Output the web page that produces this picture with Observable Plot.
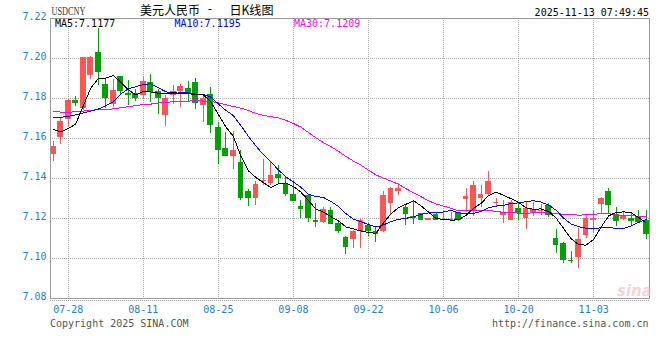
<!DOCTYPE html>
<html><head><meta charset="utf-8">
<script src="https://cdn.jsdelivr.net/npm/d3@7"></script>
<script src="https://cdn.jsdelivr.net/npm/@observablehq/plot@0.6"></script>
<style>
html,body{margin:0;padding:0;background:#fff;}
#wrap{position:relative;width:660px;height:360px;overflow:hidden;}
#wrap svg{display:block;}
#over{position:absolute;left:0;top:0;pointer-events:none;}
</style></head>
<body><div id="wrap"></div>
<script>
const dates = ["07-24","07-25","07-28","07-29","07-30","07-31","08-01","08-04","08-05","08-06","08-07","08-08","08-11","08-12","08-13","08-14","08-15","08-18","08-19","08-20","08-21","08-22","08-25","08-26","08-27","08-28","08-29","09-01","09-02","09-03","09-04","09-05","09-08","09-09","09-10","09-11","09-12","09-15","09-16","09-17","09-18","09-19","09-22","09-23","09-24","09-25","09-26","09-29","09-30","10-01","10-02","10-03","10-06","10-07","10-08","10-09","10-10","10-13","10-14","10-15","10-16","10-17","10-20","10-21","10-22","10-23","10-24","10-27","10-28","10-29","10-30","10-31","11-03","11-04","11-05","11-06","11-07","11-10","11-11","11-12"];
const open = [7.1522,7.1607,7.1693,7.1789,7.1748,7.1914,7.2030,7.1869,7.1769,7.1909,
 7.1826,7.1824,7.1817,7.1880,7.1834,7.1714,7.1817,7.1836,7.1851,7.1880,
 7.1765,7.1820,7.1656,7.1550,7.1512,7.1478,7.1334,7.1299,7.1385,7.1374,
 7.1418,7.1377,7.1319,7.1261,7.1317,7.1190,7.1178,7.1240,7.1175,7.1106,
 7.1097,7.1133,7.1167,7.1137,7.1133,7.1277,7.1335,7.1255,7.1212,7.1227,
 7.1188,7.1222,7.1190,7.1188,7.1230,7.1297,7.1242,7.1302,7.1318,7.1277,
 7.1213,7.1188,7.1252,7.1202,7.1232,7.1237,7.1263,7.1100,7.1077,7.0992,
 7.1003,7.1113,7.1188,7.1268,7.1333,7.1222,7.1197,7.1200,7.1210,7.1188];
const high = [7.1585,7.1706,7.1793,7.1809,7.2005,7.2010,7.2150,7.1900,7.1897,7.1909,
 7.1889,7.1844,7.1905,7.1919,7.1847,7.1817,7.1864,7.1872,7.1884,7.1900,
 7.1820,7.1856,7.1679,7.1628,7.1633,7.1542,7.1344,7.1385,7.1497,7.1484,
 7.1463,7.1410,7.1377,7.1289,7.1317,7.1274,7.1254,7.1253,7.1187,7.1112,
 7.1138,7.1193,7.1177,7.1160,7.1333,7.1355,7.1377,7.1267,7.1288,7.1227,
 7.1198,7.1230,7.1230,7.1230,7.1230,7.1352,7.1385,7.1363,7.1433,7.1300,
 7.1290,7.1288,7.1280,7.1280,7.1280,7.1272,7.1277,7.1147,7.1080,7.1035,
 7.1152,7.1213,7.1242,7.1305,7.1350,7.1255,7.1230,7.1230,7.1242,7.1238];
const low = [7.1487,7.1572,7.1660,7.1761,7.1740,7.1897,7.1867,7.1748,7.1756,7.1814,
 7.1764,7.1784,7.1797,7.1780,7.1720,7.1661,7.1771,7.1756,7.1778,7.1743,
 7.1678,7.1625,7.1468,7.1510,7.1443,7.1291,7.1261,7.1264,7.1364,7.1367,
 7.1374,7.1311,7.1284,7.1198,7.1182,7.1157,7.1175,7.1172,7.1126,7.1018,
 7.1052,7.1052,7.1110,7.1080,7.1130,7.1217,7.1313,7.1163,7.1172,7.1188,
 7.1188,7.1188,7.1188,7.1188,7.1187,7.1230,7.1208,7.1255,7.1310,7.1255,
 7.1177,7.1188,7.1190,7.1143,7.1210,7.1213,7.1205,7.1027,7.0975,7.0975,
 7.0950,7.1100,7.1130,7.1222,7.1227,7.1160,7.1188,7.1160,7.1180,7.1097];
const close = [7.1560,7.1685,7.1789,7.1776,7.2003,7.2003,7.1930,7.1800,7.1839,7.1836,
 7.1814,7.1800,7.1884,7.1830,7.1802,7.1800,7.1834,7.1859,7.1827,7.1773,
 7.1798,7.1663,7.1542,7.1512,7.1542,7.1299,7.1299,7.1372,7.1388,7.1413,
 7.1398,7.1319,7.1284,7.1246,7.1202,7.1182,7.1245,7.1172,7.1137,7.1053,
 7.1133,7.1188,7.1137,7.1120,7.1317,7.1352,7.1350,7.1218,7.1207,7.1188,
 7.1198,7.1188,7.1193,7.1193,7.1192,7.1312,7.1363,7.1322,7.1383,7.1280,
 7.1230,7.1280,7.1227,7.1250,7.1243,7.1242,7.1213,7.1063,7.0988,7.0988,
 7.1093,7.1202,7.1202,7.1302,7.1267,7.1183,7.1210,7.1183,7.1180,7.1122];
const ma5 = [7.1645,7.1633,7.1650,7.1672,7.1763,7.1851,7.1900,7.1902,7.1915,7.1882,
 7.1844,7.1818,7.1835,7.1833,7.1826,7.1823,7.1830,7.1825,7.1824,7.1819,
 7.1818,7.1784,7.1721,7.1658,7.1611,7.1512,7.1439,7.1405,7.1380,7.1354,
 7.1374,7.1378,7.1360,7.1332,7.1290,7.1247,7.1232,7.1209,7.1188,7.1158,
 7.1148,7.1137,7.1130,7.1126,7.1179,7.1223,7.1255,7.1271,7.1289,7.1263,
 7.1232,7.1200,7.1195,7.1192,7.1193,7.1216,7.1251,7.1276,7.1314,7.1332,
 7.1316,7.1299,7.1280,7.1253,7.1246,7.1248,7.1235,7.1202,7.1150,7.1099,
 7.1069,7.1067,7.1095,7.1157,7.1213,7.1231,7.1233,7.1229,7.1205,7.1177];
const ma10 = [7.1705,7.1706,7.1711,7.1718,7.1728,7.1737,7.1747,7.1764,7.1784,7.1822,
 7.1848,7.1859,7.1869,7.1874,7.1854,7.1834,7.1824,7.1830,7.1829,7.1822,
 7.1821,7.1807,7.1773,7.1741,7.1715,7.1665,7.1611,7.1563,7.1519,7.1483,
 7.1443,7.1408,7.1383,7.1356,7.1322,7.1310,7.1305,7.1285,7.1260,7.1224,
 7.1197,7.1184,7.1170,7.1157,7.1168,7.1185,7.1196,7.1201,7.1208,7.1221,
 7.1228,7.1228,7.1233,7.1240,7.1228,7.1224,7.1225,7.1236,7.1253,7.1262,
 7.1266,7.1275,7.1278,7.1284,7.1289,7.1282,7.1267,7.1241,7.1202,7.1172,
 7.1159,7.1151,7.1148,7.1154,7.1156,7.1150,7.1150,7.1162,7.1181,7.1195];
const ma30 = [7.1735,7.1732,7.1732,7.1733,7.1737,7.1742,7.1743,7.1745,7.1748,7.1754,
 7.1759,7.1765,7.1769,7.1772,7.1777,7.1780,7.1784,7.1785,7.1787,7.1789,
 7.1787,7.1786,7.1778,7.1769,7.1760,7.1752,7.1740,7.1726,7.1715,7.1709,
 7.1704,7.1691,7.1675,7.1657,7.1630,7.1603,7.1580,7.1559,7.1536,7.1510,
 7.1487,7.1467,7.1442,7.1418,7.1402,7.1387,7.1371,7.1349,7.1329,7.1309,
 7.1289,7.1273,7.1262,7.1251,7.1239,7.1240,7.1242,7.1240,7.1240,7.1236,
 7.1230,7.1229,7.1227,7.1227,7.1228,7.1230,7.1229,7.1226,7.1221,7.1219,
 7.1217,7.1218,7.1220,7.1226,7.1224,7.1219,7.1214,7.1213,7.1212,7.1210];
const tickLabels = ["07-28","08-11","08-25","09-08","09-22","10-06","10-20","11-03"];
const yTicks = [7.08,7.10,7.12,7.14,7.16,7.18,7.20,7.22];
const legendNames = ["MA5","MA10","MA30"];
const legendValues = ["7.1177","7.1195","7.1209"];
const symbol = "USDCNY";
const titleParts = ["美元人民币","-","日K线图"];
const stamp = "2025-11-13 07:49:45";
const footLeft = "Copyright 2025 SINA.COM";
const footRight = "http://finance.sina.com.cn";

const UP = "#ff5555", DOWN = "#00a000", AXIS = "#1e80d0", GRID = "#a8a8a8";
const MA_COLORS = ["#000000", "#0000ff", "#ff00ff"];
const rows = dates.map((d, i) => ({i, date: d, open: open[i], high: high[i], low: low[i], close: close[i], ma5: ma5[i], ma10: ma10[i], ma30: ma30[i]}));
const col = d => d.close >= d.open ? UP : DOWN;
const tickIdx = tickLabels.map(l => dates.indexOf(l));
const gridY = yTicks.slice(1, -1);
const HW = 0.38;

const chart = Plot.plot({
  width: 660, height: 360,
  marginTop: 18, marginRight: 11, marginBottom: 62, marginLeft: 50,
  style: {fontFamily: "'DejaVu Sans Mono', monospace", fontSize: "10px", background: "#fff", color: AXIS},
  x: {type: "linear", domain: [-0.36, 79.44]},
  y: {type: "linear", domain: [7.08, 7.22]},
  color: {type: "identity"},
  marks: [
    Plot.ruleX(tickIdx, {x: d => d, stroke: GRID, strokeDasharray: "1,1", shapeRendering: "crispEdges"}),
    Plot.ruleY(gridY, {y: d => d, stroke: GRID, strokeDasharray: "1,1", shapeRendering: "crispEdges"}),
    Plot.axisY({ticks: yTicks, tickSize: 0, tickPadding: 4, tickFormat: d3.format(".2f"), dy: -2, label: null, fill: AXIS}),
    Plot.axisX({ticks: tickIdx, tickSize: 0, tickPadding: 7, tickFormat: i => dates[i], label: null, fill: AXIS}),
    Plot.ruleX(rows, {x: "i", y1: "low", y2: "high", stroke: col, shapeRendering: "crispEdges"}),
    Plot.rect(rows, {x1: d => d.i - HW, x2: d => d.i + HW, y1: "open", y2: "close", fill: col, shapeRendering: "crispEdges"}),
    Plot.ruleY(rows.filter(d => Math.abs(d.close - d.open) < 0.0005), {x1: d => d.i - HW, x2: d => d.i + HW, y: "close", stroke: col, shapeRendering: "crispEdges"}),
    Plot.line(rows, {x: "i", y: "ma30", stroke: MA_COLORS[2], strokeWidth: 1, shapeRendering: "crispEdges"}),
    Plot.line(rows, {x: "i", y: "ma10", stroke: MA_COLORS[1], strokeWidth: 1, shapeRendering: "crispEdges"}),
    Plot.line(rows, {x: "i", y: "ma5", stroke: MA_COLORS[0], strokeWidth: 1, shapeRendering: "crispEdges"}),
    Plot.frame({stroke: "#999", shapeRendering: "crispEdges"})
  ]
});
const wrap = document.getElementById("wrap");
wrap.appendChild(chart);

// header / footer / legend text overlay
const NS = "http://www.w3.org/2000/svg";
const over = document.createElementNS(NS, "svg");
over.setAttribute("id", "over");
over.setAttribute("width", 660);
over.setAttribute("height", 360);
function txt(s, attrs) {
  const t = document.createElementNS(NS, "text");
  for (const k in attrs) t.setAttribute(k, attrs[k]);
  t.textContent = s;
  over.appendChild(t);
  return t;
}
const mono = "'DejaVu Sans Mono', monospace";
const cjk = "'Noto Sans CJK SC', sans-serif";
txt(symbol, {x: 51.5, y: 15, "font-family": "'Liberation Serif', serif", "font-size": 11.5, fill: "#333", textLength: 34, lengthAdjust: "spacingAndGlyphs"});
txt(titleParts[0], {x: 140, y: 14.5, "font-family": cjk, "font-size": 12.5, fill: "#000", textLength: 60, lengthAdjust: "spacingAndGlyphs"});
txt(titleParts[1], {x: 206.5, y: 13, "font-family": mono, "font-size": 12, fill: "#000", textLength: 7, lengthAdjust: "spacingAndGlyphs"});
txt(titleParts[2], {x: 229.5, y: 14.5, "font-family": cjk, "font-size": 12.5, fill: "#000", textLength: 44, lengthAdjust: "spacingAndGlyphs"});
txt(stamp, {x: 649, y: 15.5, "text-anchor": "end", "font-family": mono, "font-size": 10, fill: "#000"});
const legX = [55, 174.5, 294];
legendNames.forEach((n, k) => txt(n + ":" + legendValues[k], {x: legX[k], y: 26.5, "font-family": mono, "font-size": 10, fill: MA_COLORS[k]}));
txt(footLeft, {x: 50, y: 327, "font-family": mono, "font-size": 10, fill: "#555"});
txt(footRight, {x: 648.5, y: 327, "text-anchor": "end", "font-family": mono, "font-size": 10, fill: "#555"});
txt("sina", {x: 617, y: 296, "font-family": "'DejaVu Sans', sans-serif", "font-size": 15, "font-style": "italic", "font-weight": "bold", fill: "#f2b6b6", "fill-opacity": 0.6});
// dotted baseline under the frame
const base = document.createElementNS(NS, "line");
base.setAttribute("x1", 50); base.setAttribute("x2", 649);
base.setAttribute("y1", 300.5); base.setAttribute("y2", 300.5);
base.setAttribute("stroke", "#999"); base.setAttribute("stroke-dasharray", "1,1");
over.appendChild(base);
wrap.appendChild(over);
</script>
</body></html>
